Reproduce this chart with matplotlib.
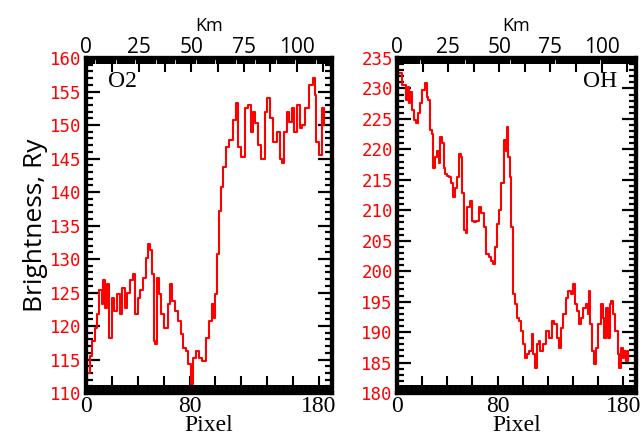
import numpy as np
import matplotlib
matplotlib.use("Agg")
import matplotlib.pyplot as plt
from matplotlib.ticker import MultipleLocator, FuncFormatter

# O2 profile (pixel, brightness)
o2_pix = [0, 2, 4, 6, 8, 9, 11, 13, 14, 16, 17, 19, 21, 23, 25, 27, 29, 31, 33, 35,
          37, 39, 41, 43, 45, 47, 49, 50, 52, 53, 54, 56, 57, 59, 62, 64, 65, 68, 70,
          72, 74, 76, 78, 80, 82, 84, 86, 88, 91, 94, 96, 98, 99, 101, 102, 103, 105,
          107, 109, 112, 115, 116, 119, 121, 124, 127, 128, 130, 131, 134, 137, 139,
          141, 143, 146, 149, 150, 152, 154, 156, 158, 160, 162, 164, 166, 168, 171,
          174, 176, 177, 179, 181, 183, 184]
o2_val = [111.5, 113.0, 115.5, 117.8, 119.7, 121.8, 125.3, 123.3, 126.8, 122.7, 126.3,
          118.2, 124.2, 122.3, 124.8, 121.8, 125.7, 122.7, 125.0, 126.8, 127.8, 121.8,
          124.2, 125.3, 127.2, 130.2, 132.3, 131.3, 127.8, 117.8, 117.3, 127.2, 124.8,
          121.8, 119.7, 123.3, 126.3, 123.8, 122.3, 120.8, 118.8, 116.7, 116.3, 114.3,
          111.3, 115.2, 116.3, 115.2, 114.8, 118.2, 120.8, 123.3, 121.2, 124.8, 130.8,
          137.2, 140.7, 143.7, 146.7, 147.7, 150.7, 153.3, 146.7, 145.2, 152.5, 153.0,
          148.9, 151.9, 150.3, 147.0, 145.0, 151.9, 154.0, 151.0, 147.4, 148.9, 145.0,
          144.4, 148.9, 151.9, 150.4, 152.5, 148.9, 153.0, 149.5, 150.0, 152.5, 156.0,
          157.0, 154.5, 147.4, 145.5, 152.5, 150.0]

# OH profile (pixel, brightness)
oh_pix = [0, 2, 6, 8, 9, 10, 11, 13, 14, 16, 17, 19, 21, 23, 24, 25, 27, 28, 29, 31,
          32, 34, 35, 36, 38, 39, 41, 42, 44, 45, 47, 49, 50, 51, 53, 54, 55, 57, 59,
          60, 62, 64, 66, 68, 70, 72, 74, 75, 77, 79, 80, 82, 84, 86, 87, 88, 89, 90,
          92, 93, 95, 96, 98, 99, 101, 102, 104, 106, 108, 109, 110, 112, 113, 115,
          117, 120, 122, 124, 126, 128, 129, 131, 133, 135, 137, 139, 141, 142, 144,
          145, 147, 149, 151, 152, 153, 154, 156, 157, 159, 161, 163, 164, 165, 167,
          168, 170, 171, 172, 175, 176, 177, 179, 180, 181, 183, 184]
oh_val = [233.0, 232.5, 230.5, 228.1, 230.2, 227.6, 229.4, 226.4, 224.8, 224.3, 225.9,
          227.6, 229.7, 230.9, 228.6, 228.1, 223.1, 222.6, 217.0, 218.7, 219.8, 217.7,
          222.0, 221.0, 217.0, 216.0, 215.7, 215.4, 214.4, 212.1, 213.7, 215.4, 219.3,
          218.7, 212.8, 206.7, 206.2, 210.5, 211.6, 208.3, 208.0, 208.3, 210.5, 209.5,
          207.2, 202.9, 202.3, 201.7, 201.2, 203.9, 207.8, 210.0, 214.4, 221.5, 219.8,
          223.6, 218.7, 215.4, 207.2, 196.3, 194.6, 192.3, 191.8, 190.2, 188.0, 185.7,
          186.4, 186.9, 189.7, 186.4, 184.1, 188.0, 188.5, 186.9, 188.0, 190.1, 189.0,
          191.8, 191.3, 189.0, 187.4, 190.7, 193.0, 195.6, 196.8, 196.3, 197.9, 194.6,
          193.5, 191.3, 192.3, 194.0, 194.6, 193.0, 196.8, 191.3, 186.9, 184.8, 187.4,
          191.3, 194.6, 192.3, 189.0, 194.0, 189.0, 194.6, 195.1, 193.0, 190.1, 186.4,
          184.1, 187.4, 185.7, 186.9, 185.2, 186.9]

KM_PER_PIX = 0.615
XMAX = 190


def label_every(step):
    return FuncFormatter(lambda v, p: "%d" % round(v) if abs(v / step - round(v / step)) < 1e-6 else "")


def style_panel(ax, ylim, name, name_x, name_ha):
    ax.set_xlim(0, XMAX)
    ax.set_ylim(*ylim)
    for s in ax.spines.values():
        s.set_linewidth(3)

    # bottom: pixel axis
    ax.xaxis.set_major_locator(MultipleLocator(20))
    ax.xaxis.set_minor_locator(MultipleLocator(1))
    ax.xaxis.set_major_formatter(FuncFormatter(
        lambda v, p: "%d" % v if round(v) in (0, 80, 180) else ""))
    ax.tick_params(axis="x", which="major", direction="in", length=12, width=1.5,
                   top=False, labelsize=17, pad=2)
    ax.tick_params(axis="x", which="minor", direction="in", length=6, width=1.4, top=False)
    for t in ax.get_xticklabels():
        t.set_fontfamily("Liberation Serif")
    ax.set_xlabel("Pixel", fontsize=17, family="Liberation Serif", labelpad=-1)

    # left/right: brightness
    ax.yaxis.set_major_locator(MultipleLocator(5))
    ax.yaxis.set_minor_locator(MultipleLocator(1))
    ax.tick_params(axis="y", which="major", direction="in", length=10, width=1.6,
                   right=True, labelsize=12.5, labelcolor="red", pad=3)
    ax.tick_params(axis="y", which="minor", direction="in", length=5, width=1.6, right=True)
    for t in ax.get_yticklabels():
        t.set_fontfamily("DejaVu Sans Mono")

    # top: km axis
    top = ax.twiny()
    top.set_xlim(0, XMAX * KM_PER_PIX)
    top.xaxis.set_major_locator(MultipleLocator(12.5))
    top.xaxis.set_minor_locator(MultipleLocator(1))
    top.xaxis.set_major_formatter(label_every(25))
    top.tick_params(axis="x", which="major", direction="in", length=10, width=1.5,
                    labelsize=15, pad=0)
    top.tick_params(axis="x", which="minor", direction="in", length=4, width=1.6)
    for t in top.get_xticklabels():
        t.set_fontfamily("Open Sans")
    top.set_xlabel("Km", fontsize=13, family="Open Sans", labelpad=4)
    for s in top.spines.values():
        s.set_linewidth(3)

    ax.text(name_x, 0.93, name, transform=ax.transAxes, fontsize=17,
            family="Liberation Serif", ha=name_ha, va="center")


fig = plt.figure(figsize=(6.4, 4.47), dpi=100)
ax1 = fig.add_axes([86 / 640, 1 - 393 / 447, (332 - 86) / 640, (393 - 58) / 447])
ax2 = fig.add_axes([397 / 640, 1 - 393 / 447, (636 - 397) / 640, (393 - 58) / 447])

ax1.plot(o2_pix, o2_val, color="red", lw=1.5, drawstyle="steps-mid")
ax2.plot(oh_pix, oh_val, color="red", lw=1.5, drawstyle="steps-mid")

style_panel(ax1, (110, 160), "O2", 0.09, "left")
style_panel(ax2, (180, 235), "OH", 0.92, "right")

ax1.set_ylabel("Brightness, Ry", fontsize=19, family="Open Sans", labelpad=2)

fig.savefig("out.png", dpi=100)
